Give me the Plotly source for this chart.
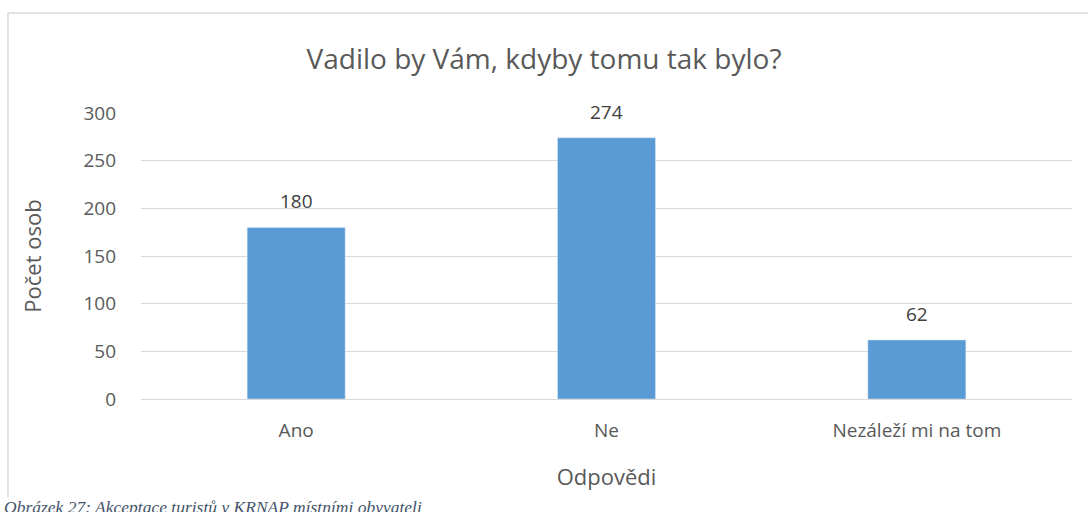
import plotly.graph_objects as go

odpovedi = ["Ano", "Ne", "Nezáleží mi na tom"]
pocet = [180, 274, 62]
y_ticks = [0, 50, 100, 150, 200, 250, 300]

font_name = "Open Sans"
grey = "#595959"

fig = go.Figure()

fig.add_trace(
    go.Bar(
        x=odpovedi,
        y=pocet,
        marker=dict(color="#5B9BD5"),
        width=0.316,
    ))

# data labels above the bars
for cat, val in zip(odpovedi, pocet):
    fig.add_annotation(
        x=cat, y=val, text=str(val),
        showarrow=False, yanchor="bottom", yshift=11,
        font=dict(size=19, color="#404040", family=font_name))

fig.update_layout(
    width=1088,
    height=512,
    margin=dict(l=141, r=16, t=113, b=113),
    paper_bgcolor="white",
    plot_bgcolor="white",
    showlegend=False,
    font=dict(family=font_name, color=grey, size=19),
    title=dict(
        text="Vadilo by Vám, kdyby tomu tak bylo?",
        x=0.5, xanchor="center",
        y=0.885, yanchor="middle",
        font=dict(size=28, color=grey, family=font_name)),
    xaxis=dict(
        title=dict(text="Odpovědi", font=dict(size=22, color=grey), standoff=27),
        tickfont=dict(size=19, color=grey),
        showline=True, linecolor="#D9D9D9", linewidth=1,
        ticks="", range=[-0.5, 2.5], ticklabelstandoff=14),
    yaxis=dict(
        title=dict(text="Počet osob", font=dict(size=22, color=grey), standoff=35),
        range=[0, 300],
        tickvals=y_ticks,
        tickfont=dict(size=19, color=grey),
        showgrid=True, gridcolor="#D9D9D9", gridwidth=1,
        zeroline=False, ticks="", ticklabelstandoff=24),
)

# chart border: only left and top edges are visible in the original
fig.add_shape(type="line", xref="paper", yref="paper",
              x0=-0.1429, x1=1.03, y0=1.35, y1=1.35,
              line=dict(color="#D9D9D9", width=1.5), layer="below")
fig.add_shape(type="line", xref="paper", yref="paper",
              x0=-0.1429, x1=-0.1429, y0=-0.343, y1=1.35,
              line=dict(color="#D9D9D9", width=1.5), layer="below")

fig.add_annotation(
    text="Obrázek 27: Akceptace turistů v KRNAP místními obyvateli",
    xref="paper", yref="paper",
    x=-0.1494, y=-0.337, xanchor="left", yanchor="top",
    showarrow=False,
    font=dict(family="Liberation Serif", size=17.5, color="#44546A", style="italic"))

fig.write_html("out.html",
               config={"displayModeBar": False},
               post_script="document.body.style.margin='0';document.body.style.overflow='hidden';")
